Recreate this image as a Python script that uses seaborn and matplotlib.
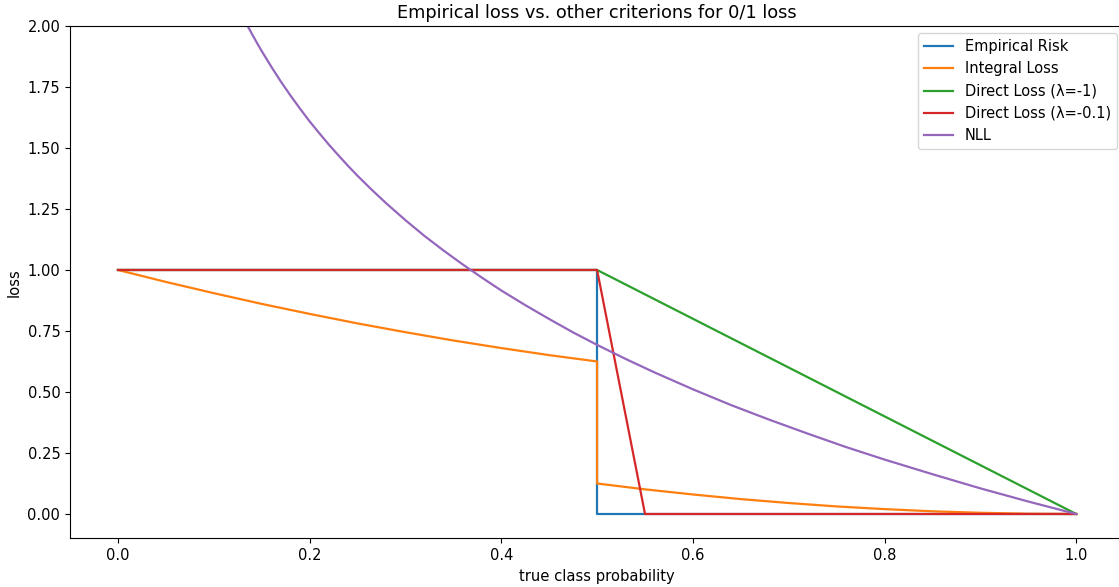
import matplotlib
matplotlib.use("Agg")
import matplotlib.pyplot as plt
import seaborn as sns
import pandas as pd

# true class probability grid points and loss readings per criterion
emp_x = [0.0, 0.5, 0.5, 1.0]
emp_y = [1.0, 1.0, 0.0, 0.0]

integral_x = [0.0, 0.05, 0.1, 0.15, 0.2, 0.25, 0.3, 0.35, 0.4, 0.45, 0.5,
              0.5, 0.55, 0.6, 0.65, 0.7, 0.75, 0.8, 0.85, 0.9, 0.95, 1.0]
integral_y = [1.0, 0.951, 0.905, 0.861, 0.82, 0.781, 0.745, 0.711, 0.68, 0.651, 0.625,
              0.125, 0.101, 0.08, 0.061, 0.045, 0.031, 0.02, 0.011, 0.005, 0.001, 0.0]

direct1_x = [0.0, 0.5, 1.0]
direct1_y = [1.0, 1.0, 0.0]

direct01_x = [0.0, 0.5, 0.55, 1.0]
direct01_y = [1.0, 1.0, 0.0, 0.0]

nll_x = [0.12, 0.125, 0.13, 0.135, 0.14, 0.145, 0.15, 0.16, 0.17, 0.18, 0.19, 0.2,
         0.21, 0.22, 0.23, 0.24, 0.25, 0.265, 0.28, 0.3, 0.32, 0.34, 0.36, 0.38, 0.4,
         0.425, 0.45, 0.475, 0.5, 0.53, 0.56, 0.6, 0.64, 0.68, 0.72, 0.76, 0.8,
         0.85, 0.9, 0.95, 1.0]
nll_y = [2.12, 2.079, 2.04, 2.002, 1.966, 1.931, 1.897, 1.833, 1.772, 1.715, 1.661, 1.609,
         1.561, 1.514, 1.47, 1.427, 1.386, 1.328, 1.273, 1.204, 1.139, 1.079, 1.022,
         0.968, 0.916, 0.856, 0.799, 0.744, 0.693, 0.635, 0.58, 0.511, 0.446, 0.386,
         0.329, 0.274, 0.223, 0.163, 0.105, 0.051, 0.0]

series = [
    ("Empirical Risk", emp_x, emp_y),
    ("Integral Loss", integral_x, integral_y),
    ("Direct Loss (λ=-1)", direct1_x, direct1_y),
    ("Direct Loss (λ=-0.1)", direct01_x, direct01_y),
    ("NLL", nll_x, nll_y),
]

colors = sns.color_palette("tab10")

plt.rcParams["font.size"] = 10.5

fig = plt.figure(figsize=(11.19, 5.87), dpi=100)
ax = fig.add_axes([0.0626, 0.0828, 0.942, 0.873])

for i, (name, xs, ys) in enumerate(series):
    df = pd.DataFrame({"p": xs, "loss": ys})
    sns.lineplot(data=df, x="p", y="loss", ax=ax, estimator=None, sort=False,
                 color=colors[i], label=name, linewidth=1.6)

ax.set_xlim(-0.05, 1.05)
ax.set_ylim(-0.1, 2.0)
ax.set_xticks([0.0, 0.2, 0.4, 0.6, 0.8, 1.0])
ax.set_yticks([0.0, 0.25, 0.5, 0.75, 1.0, 1.25, 1.5, 1.75, 2.0])
ax.yaxis.set_major_formatter(matplotlib.ticker.FormatStrFormatter("%.2f"))
ax.xaxis.set_major_formatter(matplotlib.ticker.FormatStrFormatter("%.1f"))
ax.tick_params(labelsize=10.5)
ax.set_xlabel("true class probability", fontsize=10.6)
ax.set_ylabel("loss", fontsize=10.6)
ax.set_title("Empirical loss vs. other criterions for 0/1 loss", fontsize=12.8)
ax.legend(loc="upper right", fontsize=10.5)

fig.savefig("out.png", dpi=100)
